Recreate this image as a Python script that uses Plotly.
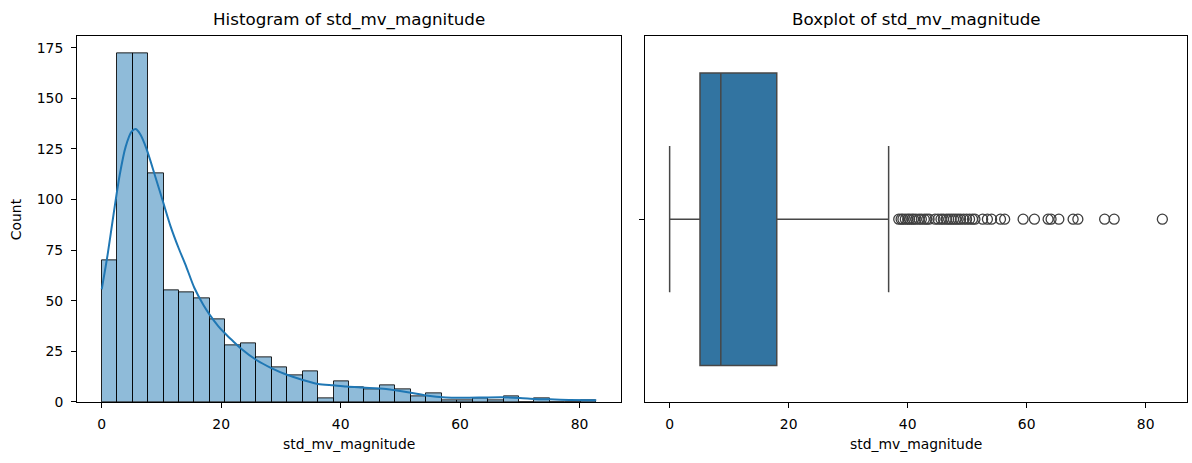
import numpy as np
import plotly.graph_objects as go

# ---------------- data ----------------
var_name = "std_mv_magnitude"
data_min = 0.0
data_max = 82.8
n_bins = 32
hist_counts = [70, 172, 172, 113, 55, 54, 51, 41, 28, 29, 22, 17, 13, 15, 2, 10,
               7, 6, 8, 6, 3, 4, 1, 1, 2, 1, 3, 0, 2, 0, 0, 1]

kde_x = [0, 1, 2, 3, 4, 5, 5.7, 6.5, 7.5, 9, 10.3, 11.5, 12.9, 14, 15.5, 17, 18,
         19.5, 20.7, 22, 23.3, 25.9, 28.4, 31, 33.5, 36.2, 38.8, 41, 43.7, 47.6,
         51.5, 54.3, 57.6, 61.5, 64, 67, 70, 72.6, 75, 78.2, 82.8]
kde_y = [55.6, 73, 93, 112, 126, 133.5, 134.8, 132, 125, 111, 98.5, 87, 75.8, 68,
         56.4, 48, 43.4, 37.5, 33.7, 30, 26.4, 20.7, 16.7, 13.4, 11, 8.9, 8.2, 7.6,
         7.1, 6.4, 4.7, 3.2, 2.2, 2.1, 2.2, 2.3, 2.0, 1.5, 1.3, 1.0, 0.8]

box_q1 = 5.1
box_median = 8.6
box_q3 = 18.0
box_lower = 0.0
box_upper = 36.8
outliers = [38.5, 38.9, 39.2, 39.6, 40.0, 40.3, 40.7, 41.0, 41.4, 41.9, 42.3, 42.8,
            43.2, 43.6, 44.6, 45.1, 45.6, 46.0, 46.5, 46.9, 47.3, 47.7, 48.1, 48.5,
            48.9, 49.4, 49.9, 50.4, 50.9, 51.3, 52.6, 53.4, 54.1, 55.6, 56.3, 59.4,
            61.3, 63.6, 64.1, 65.4, 67.8, 68.6, 73.1, 74.7, 82.8]

x_ticks = [0, 20, 40, 60, 80]
y_ticks = [0, 25, 50, 75, 100, 125, 150, 175]

# ---------------- figure ----------------
W, H = 1192, 463
FONT = "DejaVu Sans"

edges = np.linspace(data_min, data_max, n_bins + 1)
centers = (edges[:-1] + edges[1:]) / 2
bw = edges[1] - edges[0]

span = data_max - data_min
xr = [data_min - 0.05 * span, data_max + 0.05 * span]
yr = [0, max(hist_counts) * 1.05]

fig = go.Figure()
fig.add_trace(go.Bar(
    x=centers, y=hist_counts, width=[bw] * n_bins,
    marker=dict(color="rgba(31,119,180,0.5)", line=dict(color="rgba(0,0,0,0.85)", width=1)),
    xaxis="x", yaxis="y", showlegend=False, hoverinfo="skip"))
fig.add_trace(go.Scatter(
    x=kde_x, y=kde_y, mode="lines",
    line=dict(color="#1f77b4", width=2, shape="spline", smoothing=0.8),
    xaxis="x", yaxis="y", showlegend=False, hoverinfo="skip"))

fig.add_trace(go.Box(
    y=[0], q1=[box_q1], median=[box_median], q3=[box_q3],
    lowerfence=[box_lower], upperfence=[box_upper],
    orientation="h", width=0.8, whiskerwidth=0.5,
    fillcolor="#3274a1", line=dict(color="#474747", width=1.5),
    boxpoints=False, xaxis="x2", yaxis="y2", showlegend=False, hoverinfo="skip"))
fig.add_trace(go.Scatter(
    x=outliers, y=[0] * len(outliers), mode="markers",
    marker=dict(symbol="circle-open", size=10, color="#3f3f3f", line=dict(width=1.3)),
    xaxis="x2", yaxis="y2", showlegend=False, hoverinfo="skip"))

dom1 = [77 / W, 621 / W]
dom2 = [645 / W, 1187 / W]
ydom = [(H - 409) / H, (H - 37) / H]

axis_common = dict(showline=True, mirror=True, linecolor="black", linewidth=1,
                   ticks="outside", ticklen=5, tickwidth=1, tickcolor="black",
                   showgrid=False, zeroline=False,
                   tickfont=dict(family=FONT, size=13.9, color="black"))

fig.update_layout(
    width=W, height=H, autosize=False, margin=dict(l=0, r=0, t=0, b=0, pad=0),
    paper_bgcolor="white", plot_bgcolor="white", bargap=0,
    xaxis=dict(domain=dom1, range=xr, tickvals=x_ticks, anchor="y",
               ticklabelstandoff=4, **axis_common),
    yaxis=dict(domain=ydom, range=yr, tickvals=y_ticks, anchor="x",
               ticklabelstandoff=5, **axis_common),
    xaxis2=dict(domain=dom2, range=xr, tickvals=x_ticks, anchor="y2",
                ticklabelstandoff=4, **axis_common),
    yaxis2=dict(domain=ydom, range=[0.5, -0.5], tickvals=[0], ticktext=[""],
                anchor="x2", **axis_common),
)

annots = [
    dict(text=f"Histogram of {var_name}", x=sum(dom1) / 2, y=ydom[1], yanchor="bottom",
         yshift=4, font=dict(size=16.7)),
    dict(text=f"Boxplot of {var_name}", x=sum(dom2) / 2, y=ydom[1], yanchor="bottom",
         yshift=4, font=dict(size=16.7)),
    dict(text=var_name, x=sum(dom1) / 2, y=(H - 452) / H, yanchor="middle", font=dict(size=13.9)),
    dict(text=var_name, x=sum(dom2) / 2, y=(H - 452) / H, yanchor="middle", font=dict(size=13.9)),
    dict(text="Count", x=16 / W, y=sum(ydom) / 2, textangle=-90, xanchor="center",
         yanchor="middle", font=dict(size=13.9)),
]
for a in annots:
    a.update(xref="paper", yref="paper", showarrow=False)
    a["font"].update(family=FONT, color="black")
    a.setdefault("xanchor", "center")
fig.update_layout(annotations=annots)

fig.write_html("out.html", config={"responsive": False})
